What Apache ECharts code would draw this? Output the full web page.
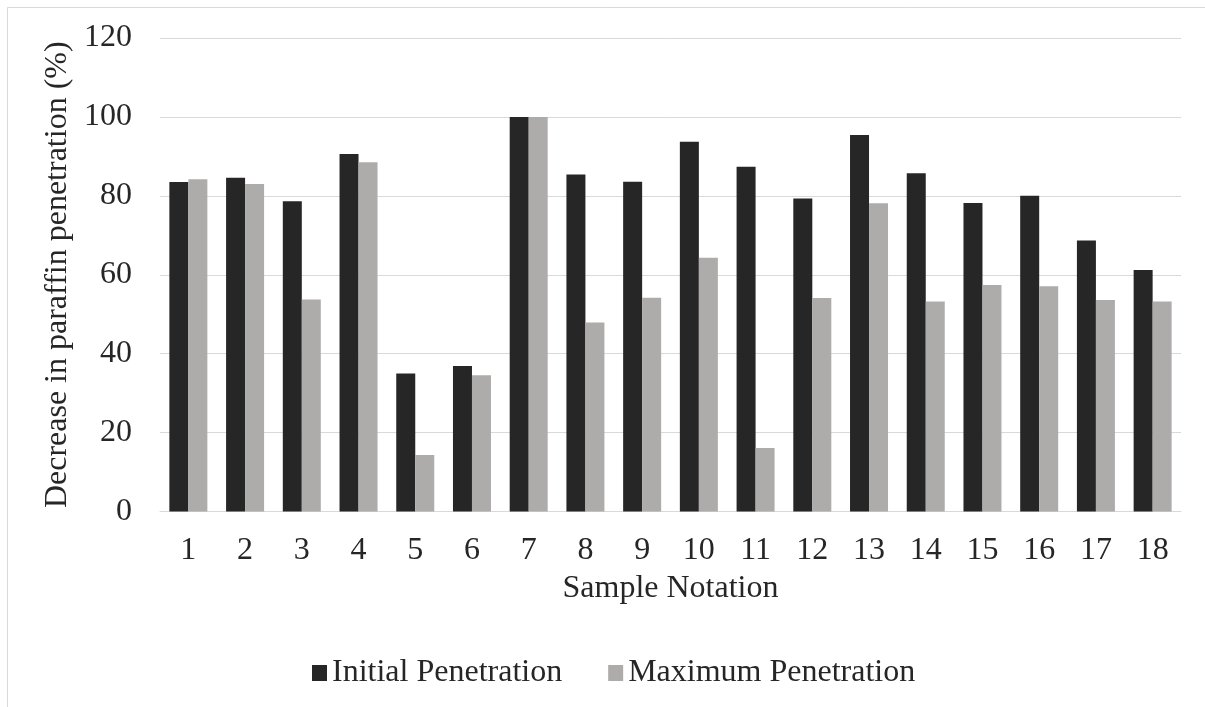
<!DOCTYPE html>
<html>
<head>
<meta charset="utf-8">
<script src="https://cdn.jsdelivr.net/npm/echarts@6/dist/echarts.min.js"></script>
<style>
html,body{margin:0;padding:0;background:#fff;}
#chart{width:1205px;height:707px;}
</style>
</head>
<body>
<div id="chart"></div>
<script>
const categories = ['1','2','3','4','5','6','7','8','9','10','11','12','13','14','15','16','17','18'];
const initialPenetration = [83.5, 84.6, 78.6, 90.6, 35.0, 36.9, 100, 85.4, 83.6, 93.7, 87.4, 79.3, 95.4, 85.7, 78.2, 80.0, 68.7, 61.2];
const maximumPenetration = [84.2, 83.0, 53.7, 88.5, 14.3, 34.5, 100, 47.9, 54.2, 64.3, 16.1, 54.1, 78.1, 53.2, 57.4, 57.1, 53.6, 53.2];
const seriesNames = ['Initial Penetration', 'Maximum Penetration'];
const yTicks = {min: 0, max: 120, interval: 20};

const FONT = '"Liberation Serif", "Times New Roman", serif';
const TXT = '#262626';
const FS = 32;

const chart = echarts.init(document.getElementById('chart'), null, {renderer: 'canvas'});
chart.setOption({
  animation: false,
  backgroundColor: '#ffffff',
  graphic: [{
    type: 'rect',
    shape: {x: 7.5, y: 7.5, width: 1400, height: 900},
    style: {fill: 'none', stroke: '#D9D9D9', lineWidth: 1},
    silent: true
  }],
  grid: {left: 160, top: 38, width: 1021, height: 473.5, containLabel: false},
  legend: {
    data: seriesNames,
    left: 307,
    top: 652,
    itemWidth: 15,
    itemHeight: 16,
    itemGap: 46,
    icon: 'rect',
    textStyle: {fontFamily: FONT, fontSize: FS, color: TXT}
  },
  xAxis: {
    type: 'category',
    data: categories,
    name: 'Sample Notation',
    nameLocation: 'middle',
    nameGap: 61,
    nameTextStyle: {fontFamily: FONT, fontSize: FS, color: TXT},
    axisLine: {lineStyle: {color: '#D9D9D9', width: 1}},
    axisTick: {show: false},
    axisLabel: {fontFamily: FONT, fontSize: FS, color: TXT, margin: 23, interval: 0}
  },
  yAxis: {
    type: 'value',
    min: yTicks.min,
    max: yTicks.max,
    interval: yTicks.interval,
    name: 'Decrease in paraffin penetration (%)',
    nameLocation: 'middle',
    nameGap: 82,
    nameTextStyle: {fontFamily: FONT, fontSize: FS, color: TXT},
    axisLine: {show: false},
    axisTick: {show: false},
    axisLabel: {fontFamily: FONT, fontSize: FS, color: TXT, margin: 28},
    splitLine: {lineStyle: {color: '#D9D9D9', width: 1}}
  },
  series: [
    {name: seriesNames[0], type: 'bar', data: initialPenetration, itemStyle: {color: '#262626'}, barGap: '0%', barCategoryGap: '33%'},
    {name: seriesNames[1], type: 'bar', data: maximumPenetration, itemStyle: {color: '#AEABAB'}, barGap: '0%', barCategoryGap: '33%'}
  ]
});
</script>
</body>
</html>
